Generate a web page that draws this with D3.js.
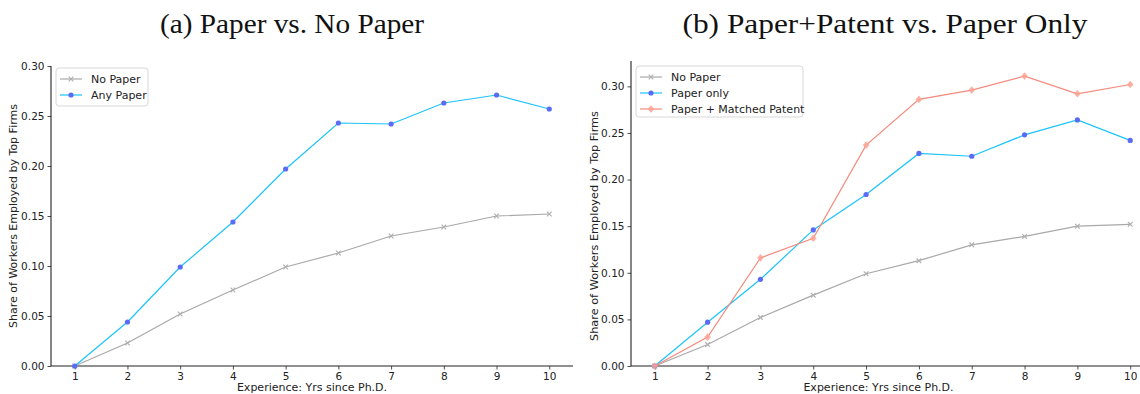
<!DOCTYPE html>
<html><head><meta charset="utf-8">
<script src="https://cdn.jsdelivr.net/npm/d3@7"></script>
<style>body{margin:0;background:#fff}svg{display:block}</style>
</head><body><svg id="c" width="1140" height="394"></svg>
<script>
const years = [1,2,3,4,5,6,7,8,9,10];
const noPaper = [0.000,0.023,0.052,0.076,0.099,0.113,0.130,0.139,0.150,0.152];
const anyPaper = [0.000,0.044,0.099,0.144,0.197,0.243,0.242,0.263,0.271,0.257];
const paperOnly = [0.000,0.047,0.093,0.146,0.184,0.228,0.225,0.248,0.264,0.242];
const paperPatent = [0.000,0.031,0.116,0.137,0.237,0.286,0.296,0.311,0.292,0.302];
const yTicks = [0,0.05,0.10,0.15,0.20,0.25,0.30];
const titles = ["(a) Paper vs. No Paper","(b) Paper+Patent vs. Paper Only"];
const xLabel = "Experience: Yrs since Ph.D.";
const yLabel = "Share of Workers Employed by Top Firms";

const svg = d3.select("#c");
const C = {gray:"#a9a9a9", grayM:"#b0b0b0", blueL:"#1cc3fb", blueM:"#5a6cf6", red:"#f58a7c", redM:"#fba394"};

function panel(cfg){
  const g = svg.append("g");
  const x = d3.scaleLinear().domain([0.55,10.45]).range([cfg.x0,cfg.x1]);
  const y = d3.scaleLinear().domain([0,cfg.ymax]).range([cfg.y0,cfg.y1]);
  svg.append("text").attr("x",cfg.tx).attr("y",33).attr("text-anchor","middle")
    .attr("font-family","'Liberation Serif','DejaVu Serif',serif").attr("font-size",28).attr("fill","#111")
    .attr("textLength",cfg.tw).attr("lengthAdjust","spacingAndGlyphs").text(cfg.title);
  const xa = g.append("g").attr("transform",`translate(0,${cfg.y0})`)
    .call(d3.axisBottom(x).tickValues(years).tickFormat(d3.format("d")).tickSize(3.5).tickPadding(3));
  const ya = g.append("g").attr("transform",`translate(${cfg.x0},0)`)
    .call(d3.axisLeft(y).tickValues(yTicks).tickFormat(d3.format(".2f")).tickSize(3.5).tickPadding(3));
  [xa,ya].forEach(a=>{
    a.selectAll("text").attr("font-family","'DejaVu Sans',sans-serif").attr("font-size",10.5).attr("fill","#222");
    a.selectAll("line").attr("stroke","#222").attr("stroke-width",0.8);
    a.select(".domain").attr("stroke","#222").attr("stroke-width",1.1);
  });
  ya.select(".domain").attr("d",`M0,${cfg.y0}V${cfg.y1}`);
  xa.select(".domain").attr("d",`M${cfg.x0},0H${cfg.x1}`);
  svg.append("text").attr("x",(cfg.x0+Math.min(cfg.x1,1140))/2 + cfg.xlOff).attr("y",391).attr("text-anchor","middle")
    .attr("font-family","'DejaVu Sans',sans-serif").attr("font-size",11).attr("fill","#222").text(xLabel);
  svg.append("text").attr("transform",`translate(${cfg.ylx},${cfg.ylc}) rotate(-90)`).attr("text-anchor","middle")
    .attr("font-family","'DejaVu Sans',sans-serif").attr("font-size",cfg.ylf).attr("fill","#222").text(yLabel);

  const line = d3.line().x((d,i)=>x(years[i])).y(d=>y(d));
  cfg.series.forEach(s=>{
    g.append("path").datum(s.data).attr("d",line).attr("fill","none").attr("stroke",s.lc).attr("stroke-width",1.2);
    drawMarkers(g, s, s.data.map((d,i)=>[x(years[i]),y(d)]));
  });
  const lg = g.append("g");
  const L = cfg.legend;
  lg.append("rect").attr("x",L.x).attr("y",L.y).attr("width",L.w).attr("height",L.h).attr("rx",3)
    .attr("fill","#fff").attr("fill-opacity",0.8).attr("stroke","#d8d8d8").attr("stroke-width",1);
  cfg.series.forEach((s,i)=>{
    const yy = L.y+11+i*16;
    lg.append("line").attr("x1",L.x+4).attr("x2",L.x+26).attr("y1",yy).attr("y2",yy).attr("stroke",s.lc).attr("stroke-width",1.2);
    drawMarkers(lg,s,[[L.x+15,yy]]);
    lg.append("text").attr("x",L.x+35).attr("y",yy+4).attr("font-family","'DejaVu Sans',sans-serif").attr("font-size",11).attr("fill","#222").text(s.name);
  });
}
function drawMarkers(g,s,pts){
  pts.forEach(([px,py])=>{
    if(s.m==="x"){
      g.append("path").attr("d",`M${px-2.3},${py-2.3}L${px+2.3},${py+2.3}M${px-2.3},${py+2.3}L${px+2.3},${py-2.3}`)
        .attr("stroke",s.mc).attr("stroke-width",1.2);
    } else if(s.m==="o"){
      g.append("circle").attr("cx",px).attr("cy",py).attr("r",2.6).attr("fill",s.mc);
    } else {
      g.append("path").attr("d",`M${px},${py-3.8}L${px+3.3},${py}L${px},${py+3.8}L${px-3.3},${py}Z`).attr("fill",s.mc).attr("fill-opacity",0.85);
    }
  });
}
panel({x0:51,x1:573,y0:366,y1:66,ymax:0.30,tx:292,tw:264,ylx:17,ylc:216,ylf:11,xlOff:0,title:titles[0],
  legend:{x:56,y:68,w:92,h:38},
  series:[{name:"No Paper",data:noPaper,lc:C.gray,mc:C.grayM,m:"x"},
          {name:"Any Paper",data:anyPaper,lc:C.blueL,mc:C.blueM,m:"o"}]});
panel({x0:631,x1:1154,y0:366,y1:61,ymax:0.3272,tx:885,tw:405,ylx:598,ylc:226,ylf:11.3,xlOff:-7,title:titles[1],
  legend:{x:636,y:66,w:167,h:51},
  series:[{name:"No Paper",data:noPaper,lc:C.gray,mc:C.grayM,m:"x"},
          {name:"Paper only",data:paperOnly,lc:C.blueL,mc:C.blueM,m:"o"},
          {name:"Paper + Matched Patent",data:paperPatent,lc:C.red,mc:C.redM,m:"d"}]});
</script></body></html>
